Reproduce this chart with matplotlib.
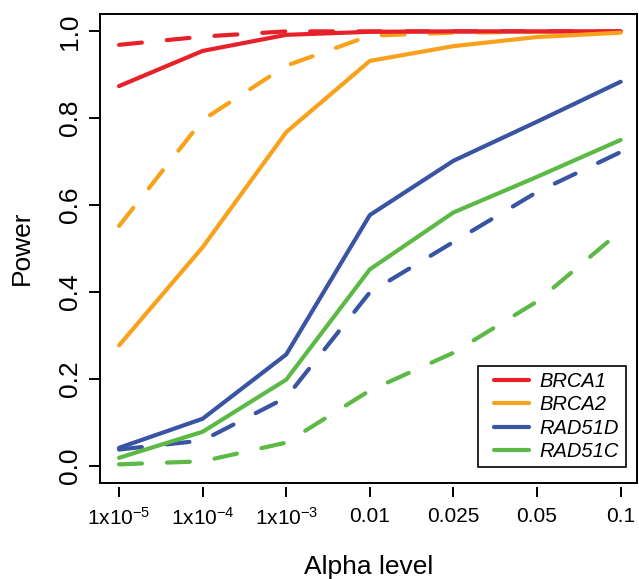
import matplotlib
matplotlib.use("Agg")
import matplotlib.pyplot as plt
from matplotlib.lines import Line2D
from matplotlib.patches import Rectangle

plt.rcParams['font.family'] = ['Liberation Sans', 'DejaVu Sans']
plt.rcParams['mathtext.fontset'] = 'custom'
plt.rcParams['mathtext.rm'] = 'Liberation Sans'
plt.rcParams['mathtext.it'] = 'Liberation Sans:italic'

alpha_labels = ["1x10$^{-5}$", "1x10$^{-4}$", "1x10$^{-3}$", "0.01", "0.025", "0.05", "0.1"]
genes = ["BRCA1", "BRCA2", "RAD51D", "RAD51C"]
colors = ["#E8202A", "#F9A11B", "#3A54A4", "#5CB946"]

brca1_solid = [0.874, 0.955, 0.992, 0.999, 1.0, 1.0, 1.0]
brca1_dash = [0.969, 0.988, 1.0, 1.0, 1.0, 1.0, 1.0]
brca2_solid = [0.277, 0.503, 0.768, 0.932, 0.966, 0.987, 0.997]
brca2_dash = [0.552, 0.796, 0.921, 0.990, 0.997, 0.999, 1.0]
rad51d_solid = [0.041, 0.108, 0.256, 0.577, 0.702, 0.792, 0.884]
rad51d_dash = [0.037, 0.058, 0.157, 0.399, 0.515, 0.630, 0.722]
rad51c_solid = [0.018, 0.078, 0.198, 0.452, 0.583, 0.665, 0.750]
rad51c_dash = [0.003, 0.010, 0.053, 0.173, 0.260, 0.378, 0.540]

solid = [brca1_solid, brca2_solid, rad51d_solid, rad51c_solid]
dashed = [brca1_dash, brca2_dash, rad51d_dash, rad51c_dash]

W, H = 639, 579
fig = plt.figure(figsize=(W / 100, H / 100), dpi=100)
L, R, T, B = 100, 637, 14, 483
ax = fig.add_axes([L / W, 1 - B / H, (R - L) / W, (B - T) / H])

for s in ax.spines.values():
    s.set_linewidth(1.4)
    s.set_color('black')
ax.spines['bottom'].set_position(('outward', 3))
ax.spines['bottom'].set_color('none')
ax.add_line(Line2D([0, 1], [0, 0], transform=ax.transAxes, color='black', lw=1.4,
                   clip_on=False, zorder=5))

x = list(range(len(alpha_labels)))
for vals, c in zip(dashed, colors):
    ax.plot(x, vals, color=c, lw=3, dashes=(5.5, 6.0), solid_capstyle='round',
            dash_capstyle='round', zorder=3)
for vals, c in zip(solid, colors):
    ax.plot(x, vals, color=c, lw=3, solid_capstyle='round', zorder=4)

ax.set_xlim(-0.228, 6.196)
ax.set_ylim(-0.04, 1.04)
ax.set_xticks(x)
ax.set_xticklabels(alpha_labels, fontsize=15)
ax.set_yticks([0.0, 0.2, 0.4, 0.6, 0.8, 1.0])
ax.set_yticklabels(["0.0", "0.2", "0.4", "0.6", "0.8", "1.0"], fontsize=19,
                   rotation=90, va='center')
ax.tick_params(axis='x', length=7.5, width=1.4, pad=7, color='black')
ax.tick_params(axis='y', length=8, width=1.4, pad=5, color='black')

fig.text((L + R) / 2 / W, 1 - 567 / H, "Alpha level", fontsize=19, ha='center', va='center')
fig.text(22 / W, 1 - 248 / H, "Power", fontsize=19, ha='center', va='center', rotation=90)

# legend frame
def ax_x(px):
    return (px - L) / (R - L)

def ax_y(py):
    return (B - py) / (B - T)

ax.add_patch(Rectangle((ax_x(478), ax_y(467)), ax_x(626) - ax_x(478), ax_y(366) - ax_y(467),
                       transform=ax.transAxes, facecolor='white', edgecolor='black',
                       lw=1.2, zorder=6))
handles = [Line2D([], [], color=c, lw=3, solid_capstyle='round') for c in colors]
leg = ax.legend(handles, genes, loc='center', bbox_to_anchor=(ax_x(556), ax_y(416.5)),
                borderaxespad=0, frameon=False, borderpad=0,
                prop={'style': 'italic', 'size': 14.5}, handlelength=1.75,
                handletextpad=0.5, labelspacing=0.22)
leg.set_zorder(7)

fig.savefig("out.png", dpi=100)
